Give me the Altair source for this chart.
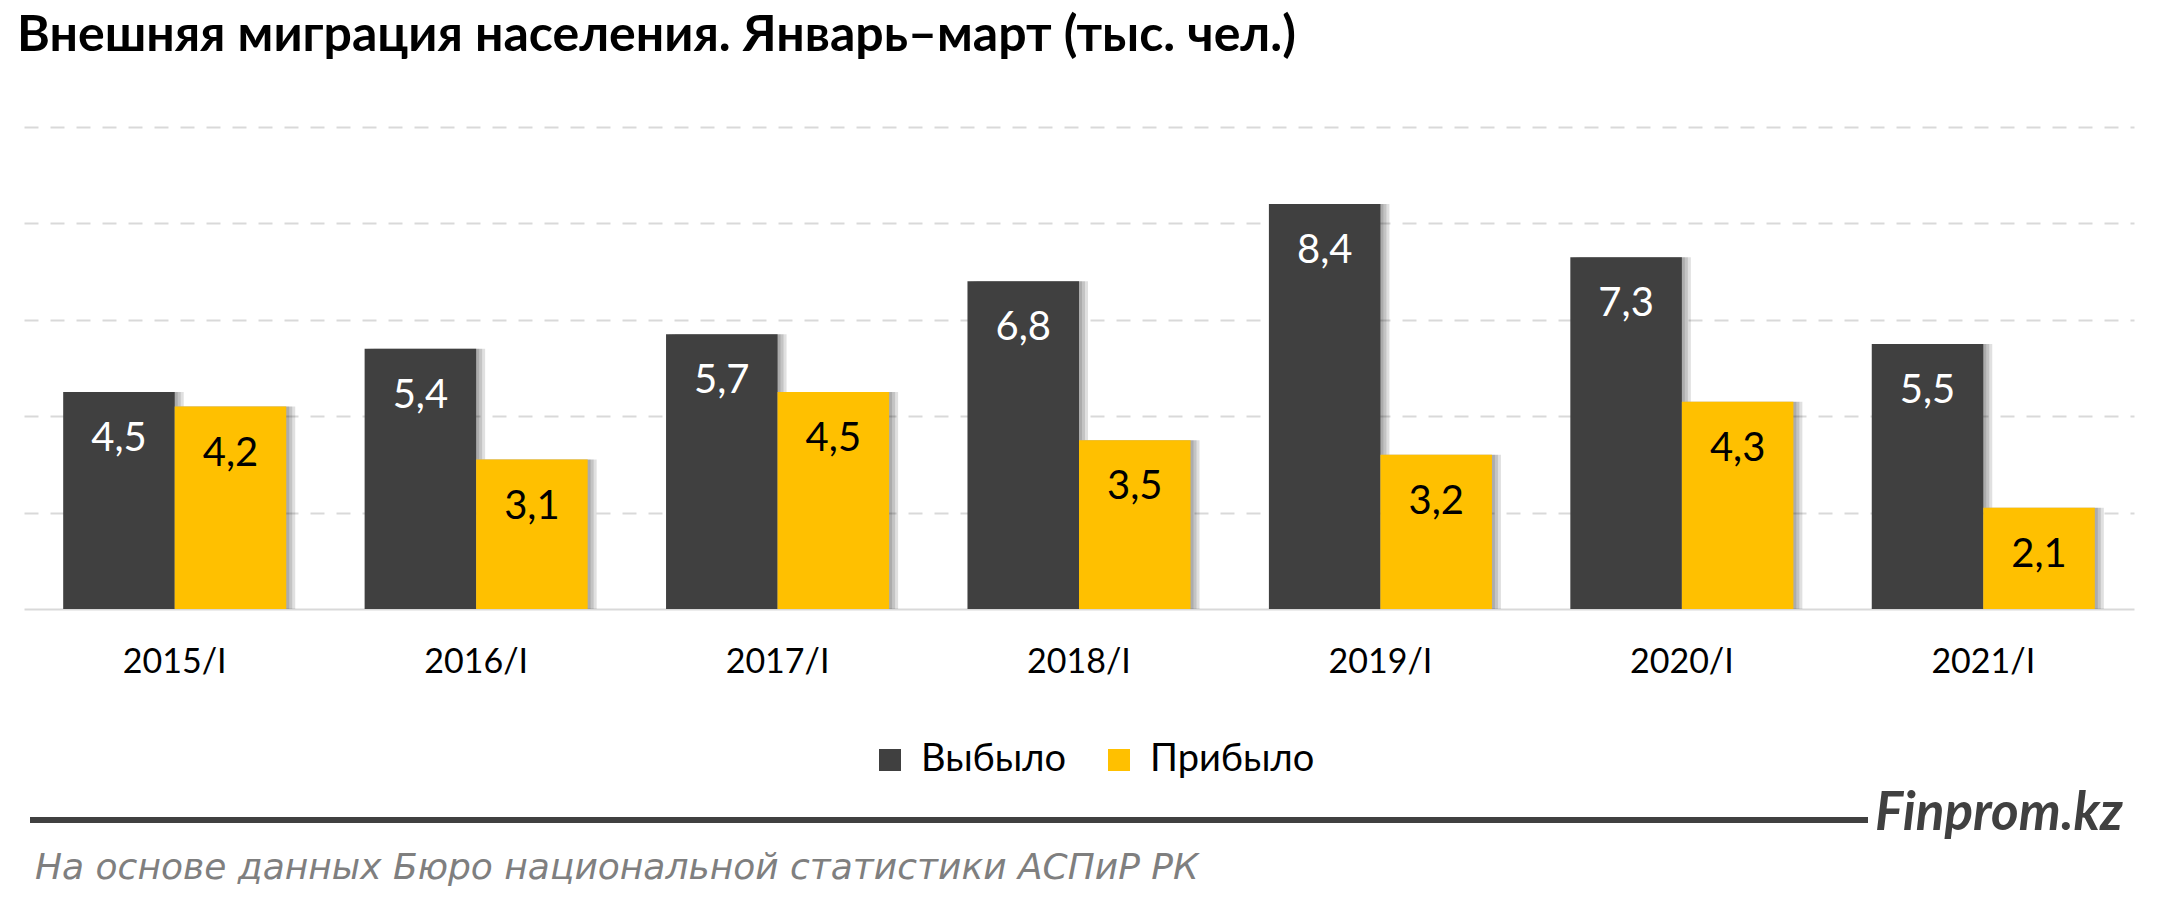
import altair as alt
import pandas as pd

years = ["2015/I", "2016/I", "2017/I", "2018/I", "2019/I", "2020/I", "2021/I"]
departed = [4.5, 5.4, 5.7, 6.8, 8.4, 7.3, 5.5]   # Выбыло
arrived = [4.2, 3.1, 4.5, 3.5, 3.2, 4.3, 2.1]    # Прибыло
series = ["Выбыло", "Прибыло"]
bar_colors = ["#404040", "#FFC000"]
label_colors = ["#FFFFFF", "#000000"]
grid_values = [2, 4, 6, 8, 10]

title_text = "Внешняя миграция населения. Январь–март (тыс. чел.)"
brand_text = "Finprom.kz"
source_text = "На основе данных Бюро национальной  статистики АСПиР РК"

rows = []
for i, yr in enumerate(years):
    for s, vals in zip(series, [departed, arrived]):
        v = vals[i]
        rows.append({"year": yr, "series": s, "value": v,
                     "label": f"{v:.1f}".replace(".", ",")})
df = pd.DataFrame(rows)

W, H = 2110, 482
P_INNER = 0.26
GROUP_W = W / len(years) * (1 - P_INNER)

x_enc = alt.X("year:N", sort=years,
              scale=alt.Scale(paddingInner=P_INNER, paddingOuter=P_INNER / 2),
              axis=alt.Axis(title=None, labelAngle=0, ticks=False, grid=False,
                            domain=True, domainColor="#d9d9d9", domainWidth=2,
                            labelFont="Lato", labelFontSize=34, labelColor="#000000",
                            labelPadding=36))
xo_enc = alt.XOffset("series:N", sort=series,
                     scale=alt.Scale(paddingInner=0, paddingOuter=0))
y_enc = alt.Y("value:Q", scale=alt.Scale(domain=[0, 10], nice=False),
              axis=alt.Axis(title=None, values=grid_values, labels=False, ticks=False,
                            domain=False, grid=True, gridDash=[14, 12],
                            gridColor="#d9d9d9", gridWidth=2))

base = alt.Chart(df)

shadows = [
    base.mark_bar(color="#000000", opacity=0.12).encode(
        x=x_enc,
        xOffset=alt.XOffset("series:N", sort=series,
                            scale=alt.Scale(domain=series, range=[k, GROUP_W + k],
                                            paddingInner=0, paddingOuter=0)),
        y=y_enc)
    for k in (3, 6, 9)
]

bars = base.mark_bar().encode(
    x=x_enc, xOffset=xo_enc, y=y_enc,
    color=alt.Color("series:N", sort=series,
                    scale=alt.Scale(domain=series, range=bar_colors),
                    legend=alt.Legend(title=None, orient="none", direction="horizontal",
                                      legendX=847, legendY=614,
                                      symbolType="square", symbolSize=484,
                                      symbolStrokeWidth=0, labelFont="Lato",
                                      labelFontSize=38, labelColor="#000000",
                                      labelLimit=400,
                                      labelOffset=12, columnPadding=34))
)

labels = base.mark_text(font="Lato", fontSize=40, baseline="middle", dy=47).encode(
    x=x_enc, xOffset=xo_enc, y=y_enc, text="label:N",
    fill=alt.Fill("series:N", scale=alt.Scale(domain=series, range=label_colors), legend=None)
)

one = pd.DataFrame({"brand": [brand_text], "source": [source_text]})
rule = alt.Chart(one).mark_rule(color="#404040", strokeWidth=6).encode(
    x=alt.value(6), x2=alt.value(1844), y=alt.value(693))
brand = alt.Chart(one).mark_text(align="left", baseline="alphabetic", font="Lato",
                                 fontStyle="italic", fontWeight="bold", fontSize=53,
                                 color="#404040").encode(
    text="brand:N", x=alt.value(1851), y=alt.value(703))
source = alt.Chart(one).mark_text(align="left", baseline="alphabetic", font="DejaVu Sans",
                                  fontStyle="italic", fontSize=36,
                                  color="#7f7f7f").encode(
    text="source:N", x=alt.value(11), y=alt.value(752))

shadow_layer = alt.layer(*shadows).resolve_scale(xOffset="independent")
main_layer = alt.layer(bars, labels)

chart = alt.layer(shadow_layer, main_layer, rule, brand, source).resolve_scale(
    xOffset="independent"
).properties(
    width=W, height=H,
    title=alt.Title(title_text, anchor="start", font="Lato", fontSize=50,
                    fontWeight="bold", color="#000000", offset=26, dx=-7,
                    baseline="alphabetic"),
    padding={"left": 24, "top": 127, "right": 26, "bottom": 313},
    autosize=alt.AutoSizeParams(type="none"),
    background="#ffffff",
).configure_view(stroke=None)

chart.save("out.html", embed_options={"renderer": "svg", "actions": False})
